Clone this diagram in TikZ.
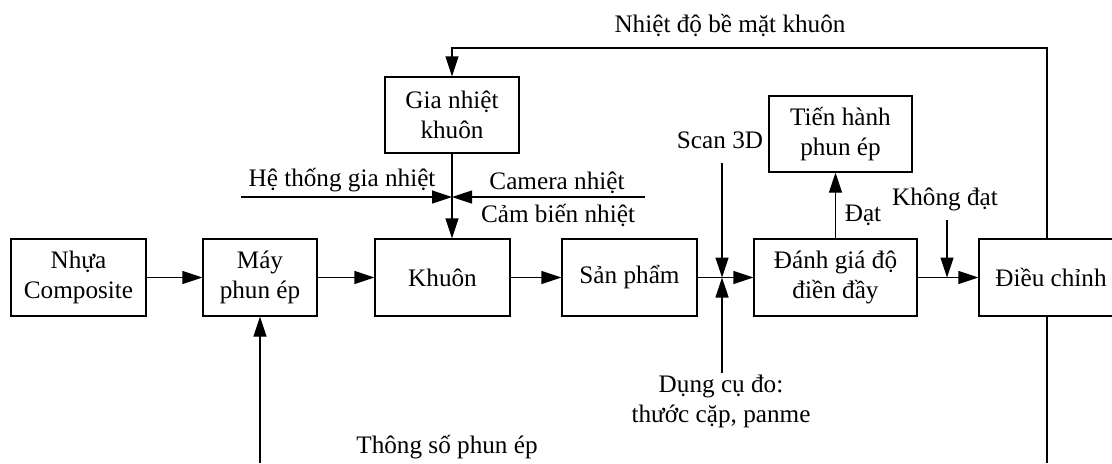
\documentclass[tikz,border=0pt]{standalone}
\usepackage{fontspec}
\setmainfont{Liberation Serif}
\usetikzlibrary{arrows.meta}

\begin{document}
\begin{tikzpicture}[x=0.5pt,y=-0.5pt,
        font=\fontsize{12.6}{15}\selectfont,
        line width=0.65pt,
        >={Triangle[length=10pt,width=6.5pt]},
        khoi/.style={draw, align=center, minimum height=38.5pt, inner sep=2pt}]
            \useasboundingbox (0,0) rectangle (1112,463);
            \node[khoi, minimum width=67.5pt] (nhua) at (78.5,277.5) {Nhựa\\Composite};
            \node[khoi, minimum width=57pt] (may) at (260,277.5) {Máy\\phun ép};
            \node[khoi, minimum width=67.5pt] (khuon) at (442.5,277.5) {Khuôn};
            \node[khoi, minimum width=67.5pt] (sanpham) at (629.5,277.5) {Sản phẩm};
            \node[khoi, minimum width=81.5pt] (danhgia) at (835.5,277.5) {Đánh giá độ\\điền đầy};
            \node[khoi, minimum width=72pt] (dieuchinh) at (1051,277.5) {Điều chỉnh};
            \node[khoi, minimum width=67pt, minimum height=38pt] (gianhiet) at (452,115) {Gia nhiệt\\khuôn};
            \node[khoi, minimum width=71.5pt, minimum height=38pt] (tienhanh) at (840.5,134) {Tiến hành\\phun ép};
            \node (nhietdo) at (730,25) {Nhiệt độ bề mặt khuôn};
            \node (lblhethong) at (342,180) {Hệ thống gia nhiệt};
            \node (lblcamera) at (557,183) {Camera nhiệt};
            \node (lblcambien) at (558,215) {Cảm biến nhiệt};
            \node (lblscan) at (720,140) {Scan 3D};
            \node (lbldat) at (863,215) {Đạt};
            \node (lblkhongdat) at (945,199) {Không đạt};
            \node[align=center] (lbldungcu) at (721,401) {Dụng cụ đo:\\thước cặp, panme};
            \node (lblthongso) at (447,447) {Thông số phun ép};
            \coordinate (hethong) at (241,197);
            \coordinate (camera) at (645,197);
            \coordinate (scan) at (722,163);
            \coordinate (dungcu) at (722,373);
            \coordinate (khongdat) at (947,220);
            \coordinate (thongso) at (260,463);
            \coordinate (day) at (1047,463);
            \coordinate (goc) at (1047,48);
            \draw[->] (nhua) -- (may);
            \draw[->] (may) -- (khuon);
            \draw[->] (khuon) -- (sanpham);
            \draw[->] (sanpham) -- (danhgia);
            \draw[->] (danhgia) -- (dieuchinh);
            \draw[->] (gianhiet.south) -- (gianhiet.south |- khuon.north);
            \draw[->] (hethong) -- (gianhiet.south |- hethong);
            \draw[->] (camera) -- (gianhiet.south |- camera);
            \draw[->] (scan) -- (scan |- sanpham.east);
            \draw[->] (dungcu) -- (dungcu |- sanpham.east);
            \draw[->] (khongdat) -- (khongdat |- danhgia.east);
            \draw[->] (danhgia.north) -- (danhgia.north |- tienhanh.south);
            \draw[->] (thongso) -- (may.south);
            \draw (dieuchinh.south -| day) -- (day);
            \draw[->] (dieuchinh.north -| goc) -- (goc) -| (gianhiet.north);
        \end{tikzpicture}
\end{document}
